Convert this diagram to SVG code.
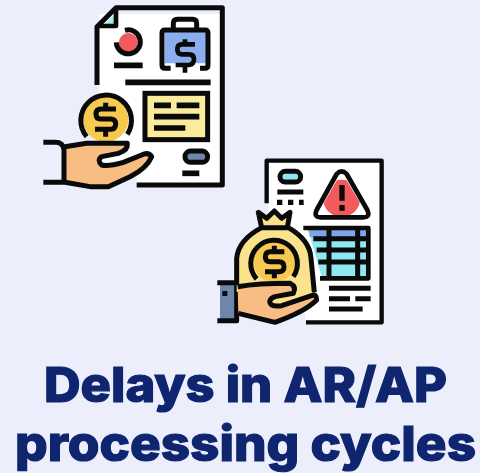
<svg xmlns="http://www.w3.org/2000/svg" width="480" height="473" viewBox="0 0 480 473">
<style>
.k{fill:none;stroke:#0a0a0a;stroke-linejoin:round}
.s16{stroke-width:17}.s14{stroke-width:15}.s12{stroke-width:14}
.t{font-family:"Inter","Liberation Sans",sans-serif;font-weight:800;font-size:48.5px;fill:#0f2570;stroke:#0f2570;stroke-width:1.2}
</style>
<rect width="480" height="473" fill="#eceffb"/>
<g id="invoice-hand">
<g transform="translate(30,0) scale(0.3333)">
<path d="M208 42H575V555H320V500H208Z" fill="#fff"/>
<path d="M222 75L252 45V75Z" fill="#a5e9f1"/>
<path class="k s14" d="M201 255V80L258 23H577V555H320"/>
<path class="k s12" d="M258 23V78H201"/>
<circle cx="295" cy="127" r="28" fill="#f25a5c"/>
<path class="k s14" d="M285 91A36 36 0 1 1 259 127"/>
<path class="k s16" d="M252 196H338M286 247H542"/>
<path d="M405 95H528V190H405Z" fill="#8aaef0"/>
<path class="k s14" d="M422 205H405Q396 205 396 195V100Q396 90 405 90H525Q534 90 534 100V195Q534 205 525 205H510M430 88V70Q430 58 442 58H488Q500 58 500 70V88"/>
<path class="k s12" d="M495 133H455Q442 133 442 148T455 163H477Q492 163 492 178T477 195H437M465 118V133M465 195V218"/>
<rect x="345" y="280" width="188" height="139" fill="#fbeb9c" stroke="#0a0a0a" stroke-width="15"/>
<path class="k s16" d="M372 316H423M440 316H508M372 350H508M372 384H466"/>
<rect x="465" y="453" width="68" height="34" rx="17" fill="#6f86ab" stroke="#0a0a0a" stroke-width="15"/>
<path class="k s16" d="M457 520H508"/>
</g>
<g transform="translate(40,85) scale(0.3333)">
<circle cx="197" cy="103" r="68" fill="#f6c94f"/>
<path class="k s14" d="M140 155A76 76 0 1 1 262 148"/>
<path class="k" stroke-width="15" d="M228 72H182Q168 72 168 87T182 102H212Q227 102 227 117T212 133H165M197 53V72M197 133V155"/>
<path d="M75 185L140 175H262Q265 195 235 205L185 215Q170 225 185 240Q205 245 250 232L305 210Q325 200 335 215Q320 250 270 275L205 305H150L75 295Z" fill="#f7bd83"/>
<path class="k s14" d="M10 172H45Q70 172 72 195V295M10 292H75L150 305H205L270 275Q320 250 335 215Q325 200 305 210L250 232Q205 245 185 240Q170 225 185 215L235 205Q265 195 262 175H140L75 185"/>
</g>
</g>
<g id="moneybag-alert">
<g transform="translate(210,150) scale(0.3333)">
<path d="M175 38H510V512H285V440H175Z" fill="#fff"/>
<path class="k" stroke-width="13" d="M170 160V32H515V517H288"/>
<rect x="210" y="64" width="62" height="32" rx="16" fill="#90e7f0" stroke="#0a0a0a" stroke-width="15"/>
<path class="k s14" d="M202 126H280"/>
<path stroke="#0a0a0a" stroke-width="16" stroke-dasharray="16 17" d="M201 157H281"/>
<clipPath id="tri"><path d="M395 65L475 200H318Z"/></clipPath>
<circle cx="395" cy="145" r="56" fill="#f25a5c" clip-path="url(#tri)"/>
<path class="k s12" d="M380 72Q395 56 410 72L472 180Q482 202 460 202H332Q310 202 320 180Z"/>
<path class="k" stroke-width="16" d="M396 105V152M396 165V182"/>
<path d="M295 240H472V380H335Z" fill="#8fe8f1"/>
<path d="M295 240H472V262H300Z" fill="#7ea4ea"/>
<path class="k s12" d="M280 234H475V385H330"/>
<path class="k" stroke-width="15" d="M357 234V385M443 234V385M310 266H475M320 300H475M325 336H475"/>
<path class="k s14" d="M357 415H482M357 446H420M436 446H482M357 477H458"/>
<path d="M30 400H75V510H30Z" fill="#6f86ab"/>
<path class="k s14" d="M22 398H80V512H22"/>
<rect x="37" y="423" width="15" height="15" fill="#0a0a0a"/>
</g>
<g transform="translate(225,205) scale(0.3333)">
<path d="M35 245V160Q40 105 110 68H190Q255 105 258 160L272 270L150 300L35 260Z" fill="#fbe38e"/>
<path d="M112 68L108 35L125 47L148 28L170 47L188 35L185 68Z" fill="#fbe38e"/>
<path class="k s14" d="M35 240V160Q40 105 110 68H190Q255 105 258 160L268 262"/>
<path class="k s14" d="M110 68L100 22L125 40L148 18L170 40L195 22L187 68"/>
<circle cx="148" cy="170" r="62" fill="#f6c94f"/>
<path class="k s14" d="M95 222A70 70 0 1 1 205 215"/>
<path class="k" stroke-width="15" d="M178 140H135Q121 140 121 155T135 170H162Q177 170 177 185T162 200H120M148 122V140M148 200V220"/>
<path d="M38 245Q100 235 195 235Q215 245 205 265L150 275Q125 285 140 300Q150 305 170 302L260 272Q275 265 275 285Q240 320 150 352L40 325Z" fill="#f7bd83"/>
<path class="k s14" d="M38 245Q100 235 195 235Q215 245 205 265L150 275Q125 285 140 300Q150 305 170 302L260 272Q275 265 275 285Q240 320 150 352L40 325"/>
</g>
</g>
<g id="title">
<text class="t" x="44" y="402" textLength="403" lengthAdjust="spacingAndGlyphs">Delays in AR/AP</text>
<text class="t" x="15" y="461" textLength="461" lengthAdjust="spacingAndGlyphs">processing cycles</text>
</g>
</svg>
